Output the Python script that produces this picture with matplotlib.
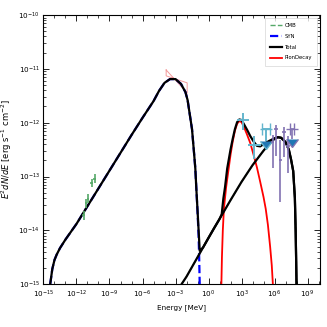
import numpy as np
import matplotlib
matplotlib.use("Agg")
import matplotlib.pyplot as plt
from matplotlib.ticker import LogLocator, NullFormatter

# all values are log10(E / MeV) and log10(E^2 dN/dE / erg s^-1 cm^-2)
syn_logE = [-14.39, -14.2, -14.0, -13.8, -13.5, -13.0, -12.0, -11.0, -10.0, -9.0, -8.0, -7.0,
            -6.0, -5.0, -4.5, -4.0, -3.5, -3.0, -2.5, -2.1, -1.9, -1.7, -1.5, -1.3, -1.2,
            -1.1, -1.0, -0.9, -0.85, -0.8]
syn_logF = [-15.0, -14.72, -14.55, -14.45, -14.33, -14.17, -13.88, -13.55, -13.22, -12.89,
            -12.56, -12.23, -11.91, -11.60, -11.41, -11.26, -11.19, -11.19, -11.28, -11.43,
            -11.58, -11.85, -12.12, -12.60, -12.85, -13.25, -13.65, -14.10, -14.5, -15.0]

cmb_logE = [-2.45, -2.0, -1.0, 0.0, 1.0, 2.0, 3.0, 4.0, 5.0, 5.5, 6.0, 6.3, 6.6, 7.0, 7.3,
            7.5, 7.7, 7.85, 7.92, 7.97, 8.0]
cmb_logF = [-15.0, -14.86, -14.50, -14.14, -13.79, -13.44, -13.10, -12.79, -12.52, -12.40,
            -12.30, -12.27, -12.28, -12.36, -12.50, -12.68, -12.90, -13.40, -14.0, -14.6, -15.0]

pion_logE = [1.17, 1.22, 1.3, 1.4, 1.6, 1.8, 2.0, 2.2, 2.4, 2.6, 2.8, 3.0, 3.2, 3.5, 3.8,
             4.1, 4.4, 4.7, 5.0, 5.2, 5.4, 5.6, 5.75, 5.85]
pion_logF = [-15.0, -14.5, -14.0, -13.6, -13.2, -12.9, -12.6, -12.35, -12.15, -12.02, -11.97,
             -11.99, -12.07, -12.22, -12.38, -12.6, -12.83, -13.1, -13.38, -13.6, -13.9,
             -14.3, -14.65, -15.0]

total_logE = syn_logE[:26] + [-1.0, -0.9, -0.8, -0.5, 0.0, 0.5, 1.0, 1.2, 1.35, 1.5, 1.7, 2.0,
                              2.2, 2.4, 2.6, 2.8, 3.0, 3.2, 3.5, 3.8, 4.1, 4.4, 4.7, 5.0, 5.5,
                              6.0, 6.3, 6.6, 7.0, 7.3, 7.5, 7.7, 7.85, 7.92, 7.97, 8.0]
total_logF = syn_logF[:26] + [-13.62, -14.0, -14.38, -14.32, -14.14, -13.96, -13.79, -13.70,
                              -13.41, -13.2, -12.85, -12.5, -12.3, -12.12, -11.99, -11.94,
                              -11.95, -12.02, -12.13, -12.25, -12.35, -12.43, -12.44, -12.40,
                              -12.34, -12.29, -12.27, -12.28, -12.36, -12.50, -12.68, -12.90,
                              -13.40, -14.0, -14.6, -15.0]

# butterfly near the synchrotron peak
bow_logE = [-3.85, -1.94, -1.94, -3.85, -3.85]
bow_logF = [-11.02, -11.45, -11.26, -11.13, -11.02]

# radio points
radio_logE = [-11.36, -11.12, -10.97, -10.61, -10.36]
radio_logF = [-13.72, -13.50, -13.41, -13.12, -13.04]

# GeV points
gev_logE = [3.12, 4.18]
gev_logF = [-11.95, -12.42]
gev_xlo = [2.55, 3.63]
gev_xhi = [3.70, 4.80]
gev_ylo = [-12.13, -12.68]
gev_yhi = [-11.82, -12.24]
gev_ul_logE = [5.21]
gev_ul_logF = [-12.11]
gev_ul_xlo = [4.85]
gev_ul_xhi = [5.60]

# TeV points
tev_logE = [5.85, 6.15, 6.52, 6.88, 7.24]
tev_logF = [-12.36, -12.12, -12.69, -12.17, -12.43]
tev_ylo = [-12.85, -12.62, -13.47, -12.63, -12.94]
tev_yhi = [-12.22, -12.04, -12.32, -12.08, -12.25]
tev_ul_logE = [7.61]
tev_ul_logF = [-12.11]

xtick_exp = [-15, -12, -9, -6, -3, 0, 3, 6, 9]
ytick_exp = [-15, -14, -13, -12, -11, -10]


def p(a):
    return 10.0 ** np.asarray(a)


plt.rcParams['font.family'] = ['DejaVu Sans']
plt.rcParams['mathtext.fontset'] = 'dejavusans'

fig = plt.figure(figsize=(3.27, 3.27), dpi=100)
ax = fig.add_axes([0.133, 0.131, 0.846, 0.823])

ax.plot(p(cmb_logE), p(cmb_logF), color='#55a868', ls='--', lw=1.0, label='CMB')
ax.plot(p(syn_logE), p(syn_logF), color='blue', ls='--', lw=1.6, label='SYN', zorder=3)
ax.plot(p(total_logE), p(total_logF), color='black', lw=1.6, label='Total', zorder=4)
ax.plot(p(cmb_logE), p(cmb_logF), color='black', lw=1.6, zorder=4)
ax.plot(p(pion_logE), p(pion_logF), color='red', lw=1.3, label='PionDecay', zorder=3)

ax.plot(p(bow_logE), p(bow_logF), color='#f08080', lw=0.7, alpha=0.8, zorder=2)

# radio
x = p(radio_logE)
y = p(radio_logF)
ax.errorbar(x, y, xerr=[x - p(np.array(radio_logE) - 0.12), p(np.array(radio_logE) + 0.12) - x],
            yerr=[y - p(np.array(radio_logF) - 0.08), p(np.array(radio_logF) + 0.08) - y],
            fmt='none', ecolor='#55a868', elinewidth=1.2, zorder=5)

# GeV
x = p(gev_logE)
y = p(gev_logF)
ax.errorbar(x, y, xerr=[x - p(gev_xlo), p(gev_xhi) - x], yerr=[y - p(gev_ylo), p(gev_yhi) - y],
            fmt='none', ecolor='#64b5cd', elinewidth=1.4, zorder=5)
x = p(gev_ul_logE)
y = p(gev_ul_logF)
ax.errorbar(x, y, xerr=[x - p(gev_ul_xlo), p(gev_ul_xhi) - x], yerr=[y * 0.4],
            uplims=True, fmt='none', ecolor='#64b5cd', elinewidth=1.4, capsize=4, zorder=5)

# TeV
x = p(tev_logE)
y = p(tev_logF)
ax.errorbar(x, y, xerr=[x * 0.3, x * 0.4], yerr=[y - p(tev_ylo), p(tev_yhi) - y],
            fmt='none', ecolor='#8172b2', elinewidth=1.2, zorder=5)
x = p(tev_ul_logE)
y = p(tev_ul_logF)
ax.errorbar(x, y, xerr=[x * 0.4], yerr=[y * 0.35], uplims=True, fmt='none',
            ecolor='#8172b2', elinewidth=1.2, capsize=4, zorder=5)

ax.set_xscale('log')
ax.set_yscale('log')
ax.set_xlim(1e-15, 1.4e10)
ax.set_ylim(1e-15, 1e-10)
ax.set_xticks(p(xtick_exp))
ax.set_yticks(p(ytick_exp))
ax.xaxis.set_minor_locator(LogLocator(base=10, subs=[1.0], numticks=40))
ax.xaxis.set_minor_formatter(NullFormatter())
ax.yaxis.set_minor_locator(LogLocator(base=10, subs=np.arange(2, 10), numticks=40))
ax.yaxis.set_minor_formatter(NullFormatter())
ax.tick_params(which='both', direction='in', top=True, right=True, labelsize=5.2)
ax.tick_params(axis='x', pad=3.5)
ax.tick_params(axis='y', pad=2.5)
ax.tick_params(which='major', length=4, width=0.6)
ax.tick_params(which='minor', length=2, width=0.5)
for s in ax.spines.values():
    s.set_linewidth(0.8)

ax.set_xlabel('Energy [MeV]', fontsize=5.2, labelpad=2.5)
ax.set_ylabel(r'$E^2 dN/dE$ [erg s$^{-1}$ cm$^{-2}$]', fontsize=6, labelpad=3)

leg = ax.legend(loc='upper right', fontsize=3.8, handlelength=2.2, handletextpad=0.6,
                borderpad=1.0, labelspacing=1.1, borderaxespad=0.5, fancybox=False)
leg.get_frame().set_edgecolor('#cccccc')
leg.get_frame().set_linewidth(0.5)

fig.savefig('out.png', dpi=100)
